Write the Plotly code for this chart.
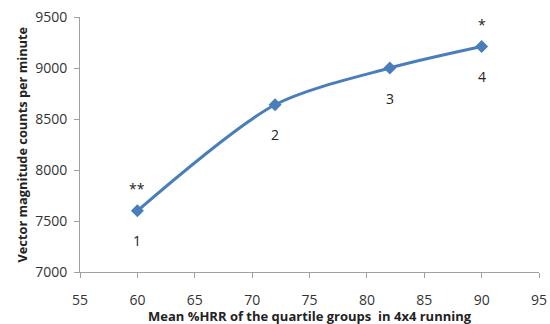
import plotly.graph_objects as go

hrr = [60, 72, 82, 90]
counts = [7600, 8640, 9000, 9210]
group_labels = ["1", "2", "3", "4"]
sig_labels = ["**", "", "", "*"]
x_title = "Mean %HRR of the quartile groups  in 4x4 running"
y_title = "Vector magnitude counts per minute"

color = "#4a7ebb"
fig = go.Figure()
fig.add_trace(go.Scatter(
    x=hrr, y=counts, mode="lines+markers",
    line=dict(color=color, width=3, shape="spline", smoothing=0.8),
    marker=dict(symbol="diamond", size=10, color=color),
    showlegend=False, cliponaxis=False,
))

annotations = []
for x, y, g, s in zip(hrr, counts, group_labels, sig_labels):
    annotations.append(dict(x=x, y=y, xref="x", yref="y", text=g, showarrow=False,
                            yshift=-30, font=dict(size=14, color="#222")))
    if s:
        annotations.append(dict(x=x, y=y, xref="x", yref="y", text=s, showarrow=False,
                                yshift=22, font=dict(size=14, color="#222")))
annotations.append(dict(x=0.5, y=-0.1725, xref="paper", yref="paper", text="<b>" + x_title + "</b>",
                        showarrow=False, xanchor="center", yanchor="middle",
                        font=dict(size=13, color="#222")))
annotations.append(dict(x=-0.1285, y=0.5, xref="paper", yref="paper", text="<b>" + y_title + "</b>",
                        showarrow=False, xanchor="center", yanchor="middle", textangle=-90,
                        font=dict(size=12.8, color="#222")))

axis_common = dict(showgrid=False, zeroline=False, showline=True, linecolor="#a0a0a0",
                   linewidth=1, ticks="outside", ticklen=5, tickcolor="#a0a0a0",
                   automargin=False, ticklabeloverflow="allow",
                   tickfont=dict(size=14, color="#333"))
fig.update_layout(
    width=550, height=324,
    margin=dict(l=80, r=11, t=17, b=52),
    paper_bgcolor="white", plot_bgcolor="white",
    font=dict(family="Open Sans, Liberation Sans, sans-serif"),
    annotations=annotations,
    xaxis=dict(range=[55, 95], dtick=5, tick0=55, ticklabelstandoff=10, **axis_common),
    yaxis=dict(range=[7000, 9500], dtick=500, ticklabelstandoff=4, **axis_common),
)
fig.write_html("out.html", config={"displayModeBar": False},
               post_script="document.body.style.margin='0';document.body.style.overflow='hidden';")
